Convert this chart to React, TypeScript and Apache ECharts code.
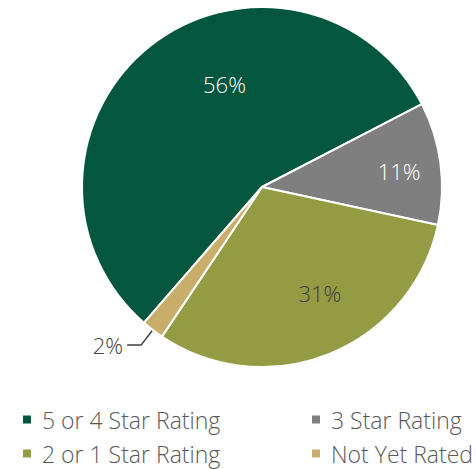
import React, { useEffect, useRef } from "react";
import * as echarts from "echarts";

const categories = ["5 or 4 Star Rating", "3 Star Rating", "2 or 1 Star Rating", "Not Yet Rated"];
const values = [56, 11, 31, 2];
const colors = ["#03573f", "#7f7f80", "#939b43", "#c9ad6a"];
const labelColors = ["#ffffff", "#ffffff", "#404040", "#404040"];
const labelOffsets: number[][] = [[20, -30], [45, -4], [23, 20], [0, 0]];

export default function App() {
  const ref = useRef<HTMLDivElement>(null);
  useEffect(() => {
    if (!ref.current) return;
    const chart = echarts.init(ref.current, null, { renderer: "svg" });
    const font = "'Open Sans', 'DejaVu Sans', sans-serif";
    const legendText = {
      fontFamily: font,
      fontWeight: 300,
      fontSize: 23,
      lineHeight: 22,
      color: "#595959",
      padding: [0, 0, 0, 5],
    };
    chart.setOption({
      animation: false,
      backgroundColor: "#ffffff",
      legend: [
        {
          data: [categories[0], categories[2]],
          orient: "vertical",
          left: 21,
          top: 408,
          height: 60,
          padding: 0,
          itemWidth: 10,
          itemHeight: 10,
          itemGap: 11,
          icon: "rect",
          textStyle: legendText,
        },
        {
          data: [categories[1], categories[3]],
          orient: "vertical",
          left: 310,
          top: 408,
          height: 60,
          padding: 0,
          itemWidth: 10,
          itemHeight: 10,
          itemGap: 11,
          icon: "rect",
          textStyle: legendText,
        },
      ],
      series: [
        {
          type: "pie",
          center: [262, 187],
          radius: 180,
          startAngle: 229,
          clockwise: true,
          avoidLabelOverlap: false,
          itemStyle: { borderColor: "#ffffff", borderWidth: 2 },
          emphasis: { disabled: true },
          data: categories.map((name, i) => ({
            name,
            value: values[i],
            itemStyle: { color: colors[i] },
            label:
              i === 3
                ? {
                    show: true,
                    position: "outside",
                    color: labelColors[i],
                    fontFamily: font,
                    fontWeight: 300,
                    fontSize: 22,
                    distanceToLabelLine: 4,
                  }
                : {
                    show: true,
                    position: "inside",
                    color: labelColors[i],
                    fontFamily: font,
                    fontWeight: 300,
                    fontSize: 22,
                    offset: labelOffsets[i],
                  },
            labelLine:
              i === 3
                ? { show: true, length: 19, length2: 14, lineStyle: { color: "#404040", width: 1.5 } }
                : { show: false },
          })),
          label: {
            formatter: (p: any) => `${p.value}%`,
          },
        },
      ],
    });
    return () => chart.dispose();
  }, []);
  return <div ref={ref} style={{ position: "absolute", left: 0, top: 0, width: 476, height: 469 }} />;
}
